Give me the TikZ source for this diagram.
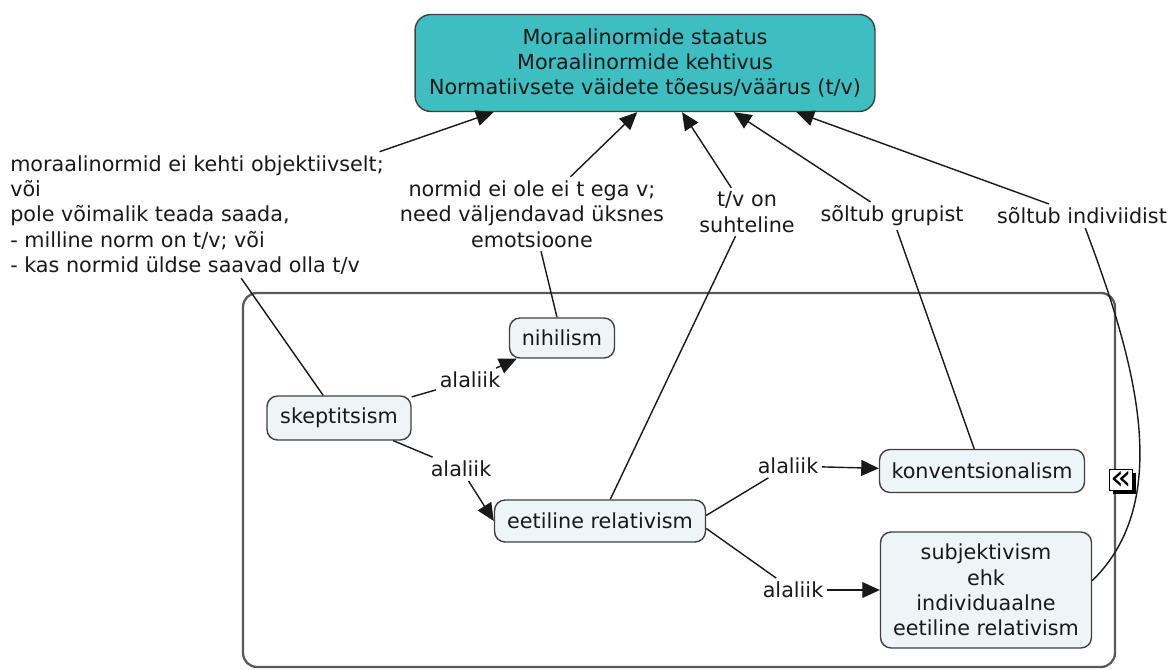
\documentclass[tikz,border=0pt]{standalone}
\usepackage{fontspec}
\setmainfont{DejaVu Sans}
\usetikzlibrary{arrows.meta}
\definecolor{topfill}{RGB}{62,190,192}
\definecolor{nodefill}{RGB}{238,245,248}
\begin{document}
\begin{tikzpicture}[x=0.02cm, y=-0.02cm,
		font=\fontsize{11.8pt}{14.4pt}\selectfont,
		concept/.style={draw=black!75, line width=0.8pt, fill=nodefill, rounded corners=6pt, align=center, text=black!90},
		linktext/.style={align=center, inner sep=2pt, text=black!90},
		link/.style={line width=0.8pt, draw=black!90},
		arr/.style={link, -{Triangle[length=10pt,width=9pt]}}]
		\useasboundingbox (0,0) rectangle (1169,669);

		% raam
		\draw[line width=1.3pt, draw=black!65, rounded corners=8pt] (243,293) rectangle (1115,667);

		% staatus
		\node[concept, fill=topfill, minimum width=9.2cm, minimum height=1.94cm, rounded corners=9pt] (staatus) at (645,63) {Moraalinormide staatus\\Moraalinormide kehtivus\\Normatiivsete väidete tõesus/väärus (t/v)};

		% seosed ylal
		\node[linktext, align=left] (objektiivne) at (197,215) {moraalinormid ei kehti objektiivselt;\\või\\pole võimalik teada saada,\\- milline norm on t/v; või\\- kas normid üldse saavad olla t/v};
		\node[linktext] (normid) at (532,214) {normid ei ole ei t ega v;\\need väljendavad üksnes\\emotsioone};
		\node[linktext] (suhteline) at (747,212) {t/v on\\suhteline};
		\node[linktext] (grupist) at (892,216) {sõltub grupist};
		\node[linktext] (indiviidist) at (1082,216) {sõltub indiviidist};

		% mõisted
		\node[concept, minimum width=2.1cm, minimum height=0.8cm] (nihilism) at (562,338) {nihilism};
		\node[concept, minimum width=2.88cm, minimum height=0.88cm] (skeptitsism) at (339,418) {skeptitsism};
		\node[concept, minimum width=4.22cm, minimum height=0.84cm] (eetiline) at (600,521) {eetiline relativism};
		\node[concept, minimum width=4.1cm, minimum height=0.86cm] (konv) at (982,471) {konventsionalism};
		\node[concept, minimum width=4.22cm, minimum height=2.32cm, text depth=0pt] (subj) at (986,590) {subjektivism\\ehk\\individuaalne\\eetiline relativism};

		% alaliigid
		\node[linktext] (ala1) at (470,380) {alaliik};
		\node[linktext] (ala2) at (461,469) {alaliik};
		\node[linktext] (ala3) at (788,466) {alaliik};
		\node[linktext] (ala4) at (793,590) {alaliik};

		\draw[link] (skeptitsism) -- (ala1);
		\draw[arr] (ala1) -- (nihilism);
		\draw[link] (skeptitsism) -- (ala2);
		\draw[arr] (ala2) -- (eetiline.west);
		\draw[link] (eetiline.3) -- (ala3);
		\draw[arr] (ala3) -- (konv);
		\draw[link] (eetiline.-4) -- (ala4);
		\draw[arr] (ala4) -- (subj);

		% nooled staatusele
		\draw[arr] (objektiivne) -- (staatus.198);
		\draw[arr] (normid) -- (staatus.261);
		\draw[arr] (suhteline) -- (staatus.307);
		\draw[arr] (grupist) -- (staatus.331);
		\draw[arr] (indiviidist) -- (staatus.342);

		\draw[link] (objektiivne) -- (skeptitsism);
		\draw[link] (normid) -- (nihilism);
		\draw[link] (suhteline) -- (eetiline);
		\draw[link] (grupist) -- (konv);
		\draw[link] (indiviidist.-75) .. controls (1135,360) and (1175,500) .. (subj.5);

		% peida nupp
		\node[fill=black, minimum width=0.46cm, minimum height=0.42cm, inner sep=0pt] (peidavari) at (1124,483) {};
		\node[draw=black, fill=white, line width=0.5pt, minimum width=0.46cm, minimum height=0.42cm, inner sep=0pt, font=\fontsize{20pt}{20pt}\selectfont] (peida) at (1121,480) {\raisebox{-0.5pt}{«}};
	\end{tikzpicture}
\end{document}
